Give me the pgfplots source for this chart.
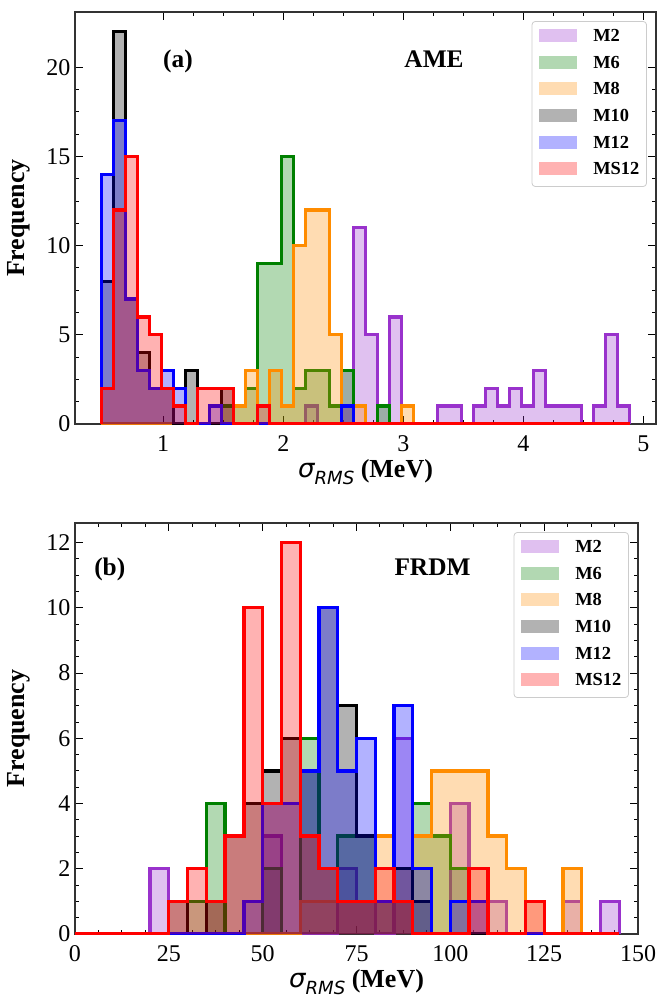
\documentclass[border=0pt]{standalone}
\usepackage{fontspec}
\setmainfont{Liberation Serif}
\newfontfamily\djv{DejaVu Sans}
\usepackage{pgfplots}
\usepackage{pgfplotstable}
\usetikzlibrary{calc}
\pgfplotsset{compat=1.18}

\definecolor{cM2}{RGB}{153,50,204}
\definecolor{cM6}{RGB}{0,128,0}
\definecolor{cM8}{RGB}{255,140,0}
\definecolor{cM10}{RGB}{0,0,0}
\definecolor{cM12}{RGB}{0,0,255}
\definecolor{cMS12}{RGB}{255,0,0}

% bin left edge, counts per model (first/last rows close the outline)
\pgfplotstableread{
edge  M2 M6 M8 M10 M12 MS12
0.485 0  0  0  0   0   0
0.485 0  0  0  8   14  2
0.585 0  0  0  22  17  12
0.685 0  0  0  7   7   15
0.785 0  0  0  4   3   6
0.885 0  0  0  2   2   5
0.985 0  0  0  2   3   2
1.085 0  0  0  0   2   1
1.185 0  0  0  3   0   0
1.285 0  0  0  0   0   2
1.385 0  0  0  0   1   2
1.485 0  1  0  2   0   2
1.585 0  1  1  0   0   0
1.685 0  2  3  0   0   0
1.785 0  9  0  0   0   1
1.885 0  9  3  0   0   0
1.985 0  15 1  0   0   0
2.085 0  2  10 0   0   0
2.185 1  3  12 0   0   0
2.285 0  3  12 0   0   0
2.385 0  1  5  0   0   0
2.485 3  3  1  0   1   0
2.585 11 0  1  0   0   0
2.685 5  0  0  0   0   0
2.785 1  1  0  0   0   0
2.885 6  0  0  0   0   0
2.985 0  0  1  0   0   0
3.085 0  0  0  0   0   0
3.185 0  0  0  0   0   0
3.285 1  0  0  0   0   0
3.385 1  0  0  0   0   0
3.485 0  0  0  0   0   0
3.585 1  0  0  0   0   0
3.685 2  0  0  0   0   0
3.785 1  0  0  0   0   0
3.885 2  0  0  0   0   0
3.985 1  0  0  0   0   0
4.085 3  0  0  0   0   0
4.185 1  0  0  0   0   0
4.285 1  0  0  0   0   0
4.385 1  0  0  0   0   0
4.485 0  0  0  0   0   0
4.585 1  0  0  0   0   0
4.685 5  0  0  0   0   0
4.785 1  0  0  0   0   0
4.885 0  0  0  0   0   0
}\ame

\pgfplotstableread{
edge M2 M6 M8 M10 M12 MS12
0    0  0  0  0   0   0
0    0  0  0  0   0   0
5    0  0  0  0   0   0
10   0  0  0  0   0   0
15   0  0  0  0   0   0
20   2  0  0  0   0   0
25   0  0  0  1   0   1
30   0  1  0  0   0   2
35   0  4  0  1   0   1
40   0  0  0  3   0   3
45   0  0  0  4   1   10
50   3  2  0  5   4   4
55   0  0  0  6   4   12
60   0  6  1  5   5   3
65   0  2  1  10  10  2
70   2  3  1  7   5   1
75   1  3  1  3   6   1
80   0  1  3  1   1   2
85   6  1  2  2   7   1
90   0  4  3  1   2   0
95   0  3  5  0   0   0
100  4  2  5  0   1   0
105  1  0  5  0   1   2
110  1  0  3  0   0   0
115  0  0  2  0   0   0
120  0  0  1  0   0   1
125  0  0  0  0   0   0
130  1  0  2  0   0   0
135  0  0  0  0   0   0
140  1  0  0  0   0   0
145  0  0  0  0   0   0
}\frdm

% one legend row: colour, centre y below the top right corner, label
\newcommand{\legrow}[3]{%
  \fill[#1, fill opacity=0.3] ($(rel axis cs:1,1)+(-87.4pt,#2pt+4.9pt)$)
    rectangle ($(rel axis cs:1,1)+(-58.9pt,#2pt-4.9pt)$);
  \node[anchor=west, inner sep=0pt, text height=9.2pt, text depth=0pt,
    font=\bfseries\fontsize{13.8}{13.8}\selectfont]
    at ($(rel axis cs:1,1)+(-47.25pt,#2pt)$) {#3};}
\newcommand{\modellegend}{%
  \draw[black!20, line width=0.6pt, fill=white, fill opacity=0.8,
    rounded corners=2.5pt] ($(rel axis cs:1,1)+(-93pt,-7.1pt)$)
    rectangle ($(rel axis cs:1,1)+(-7.1pt,-130.9pt)$);
  \legrow{cM2}{-17.6}{M2}
  \legrow{cM6}{-37.6}{M6}
  \legrow{cM8}{-57.6}{M8}
  \legrow{cM10}{-77.6}{M10}
  \legrow{cM12}{-97.6}{M12}
  \legrow{cMS12}{-117.6}{MS12}}

\pgfplotsset{
  hist/.style={const plot, mark=none, fill=#1, fill opacity=0.3,
    draw=#1, line width=2.5pt, line join=miter},
  panel/.style={
    scale only axis,
    anchor=south west,
    ymin=0,
    tick align=inside,
    xtick pos=both, ytick pos=both,
    minor tick num=3,
    major tick length=6pt, minor tick length=3pt,
    every tick/.append style={black, line width=0.7pt},
    axis line style={black!80, line width=0.8pt},
    /pgf/number format/assume math mode=true,
    tick label style={font=\fontsize{18}{18}\selectfont},
    xticklabel style={yshift=-5pt},
    xlabel style={font=\bfseries\fontsize{19.5}{19.5}\selectfont,
      at={(axis description cs:0.5,0)}, anchor=center, yshift=-36pt},
    ylabel style={font=\bfseries\fontsize{19.5}{19.5}\selectfont,
      at={(axis description cs:0,0.5)}, anchor=center, yshift=42pt},
    ylabel={Frequency},
    xlabel={{\mdseries\djv\itshape σ\raisebox{-0.45ex}{\fontsize{13.6}{13.6}\selectfont RMS}} (MeV)},
  },
}

\begin{document}
\begin{tikzpicture}
\path[use as bounding box] (-56.25pt,318pt) rectangle (436.5pt,-431.25pt);

\begin{axis}[panel, at={(0pt,0pt)},
  width=435.75pt, height=309pt,
  xmin=0.265, xmax=5.105, ymax=23.1,
  xtick={1,2,3,4,5}, ytick={0,5,10,15,20}]
  \addplot[hist=cM2]   table[x=edge, y=M2]   {\ame};
  \addplot[hist=cM6]   table[x=edge, y=M6]   {\ame};
  \addplot[hist=cM8]   table[x=edge, y=M8]   {\ame};
  \addplot[hist=cM10]  table[x=edge, y=M10]  {\ame};
  \addplot[hist=cM12]  table[x=edge, y=M12]  {\ame};
  \addplot[hist=cMS12] table[x=edge, y=MS12] {\ame};
  \modellegend
  \node[font=\bfseries\fontsize{19}{19}\selectfont] at (axis cs:1.123,20.34) {(a)};
  \node[font=\bfseries\fontsize{19}{19}\selectfont] at (axis cs:3.256,20.45) {AME};
\end{axis}

\begin{axis}[panel, at={(0pt,-382.5pt)},
  width=422.25pt, height=308.25pt,
  xmin=0, xmax=150, ymax=12.6,
  xtick={0,25,50,75,100,125,150}, ytick={0,2,4,6,8,10,12}]
  \addplot[hist=cM2]   table[x=edge, y=M2]   {\frdm};
  \addplot[hist=cM6]   table[x=edge, y=M6]   {\frdm};
  \addplot[hist=cM8]   table[x=edge, y=M8]   {\frdm};
  \addplot[hist=cM10]  table[x=edge, y=M10]  {\frdm};
  \addplot[hist=cM12]  table[x=edge, y=M12]  {\frdm};
  \addplot[hist=cMS12] table[x=edge, y=MS12] {\frdm};
  \modellegend
  \node[font=\bfseries\fontsize{19}{19}\selectfont] at (axis cs:9.26,11.18) {(b)};
  \node[font=\bfseries\fontsize{19}{19}\selectfont] at (axis cs:95.25,11.24) {FRDM};
\end{axis}
\end{tikzpicture}
\end{document}
